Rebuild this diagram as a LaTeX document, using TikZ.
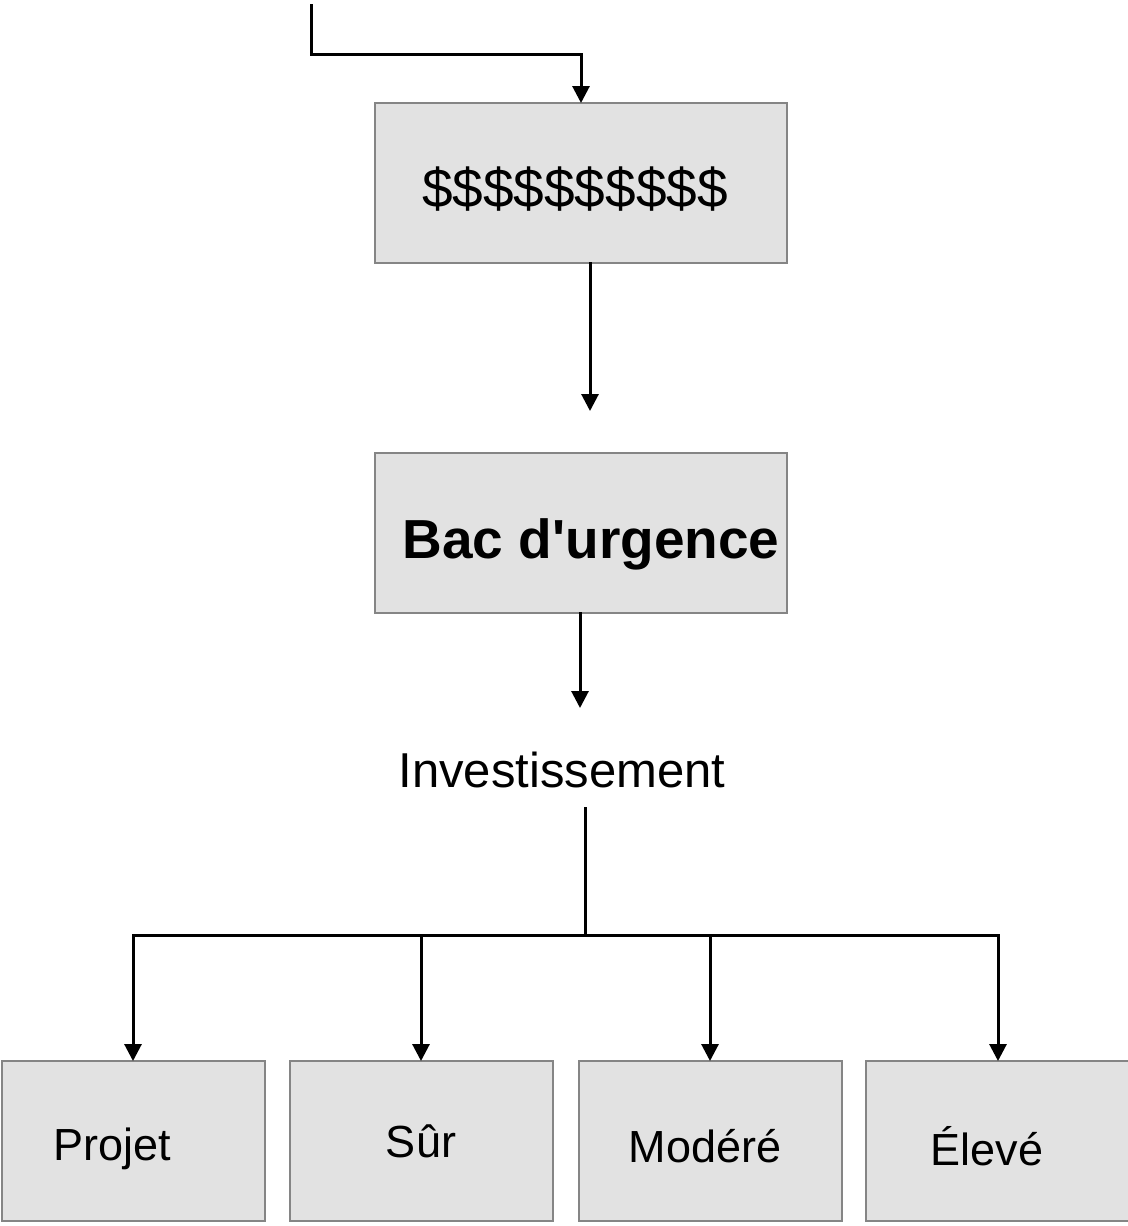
\documentclass[tikz,border=0pt]{standalone}
\usepackage{fontspec}
\setmainfont{Liberation Sans}[Ligatures=TeXOff]
\usetikzlibrary{arrows.meta}

\definecolor{boxfill}{HTML}{E2E2E2}
\definecolor{boxline}{HTML}{858585}

\tikzset{
  panel/.style={draw=boxline, fill=boxfill, line width=1.8pt, rectangle,
    inner sep=0pt, outer sep=0pt, anchor=north west},
  wire/.style={line width=3pt, black, line cap=rect},
  flow/.style={wire, -{Triangle[length=17pt,width=17pt]}},
  txt/.style={anchor=base, inner sep=0pt, text=black},
}

\begin{document}
\begin{tikzpicture}[x=1pt, y=-1pt]
\useasboundingbox (0,0) rectangle (1127,1226);

% boxes
\node[panel, minimum width=412pt, minimum height=160pt] (cash) at (375,103) {};
\node[panel, minimum width=412pt, minimum height=160pt] (bac) at (375,453) {};
\node[panel, minimum width=263pt, minimum height=160pt] (p1) at (2,1061) {};
\node[panel, minimum width=263pt, minimum height=160pt] (p2) at (290,1061) {};
\node[panel, minimum width=263pt, minimum height=160pt] (p3) at (579,1061) {};
\node[panel, minimum width=263pt, minimum height=160pt] (p4) at (866,1061) {};

% labels
\node[txt, font=\fontsize{55}{60}\selectfont] (cashtxt) at (575,207) {\$\$\$\$\$\$\$\$\$\$};
\node[txt, font=\fontsize{55}{60}\selectfont\bfseries] (bactxt) at (591,558) {Bac d'urgence};
\node[txt, font=\fontsize{49}{54}\selectfont] (inv) at (562,787) {Investissement};
\node[txt, font=\fontsize{45}{50}\selectfont] (t1) at (112,1160) {Projet};
\node[txt, font=\fontsize{45}{50}\selectfont] (t2) at (421,1157) {Sûr};
\node[txt, font=\fontsize{45}{50}\selectfont] (t3) at (705,1162) {Modéré};
\node[txt, font=\fontsize{45}{50}\selectfont] (t4) at (987,1165) {Élevé};

% connector points
\coordinate (src) at (311,5);
\coordinate (bend) at (311,54);
\coordinate (in1) at (581,103);
\coordinate (out1) at (590,263);
\coordinate (end2) at (590,411);
\coordinate (out2) at (580,613);
\coordinate (end3) at (580,708);
\coordinate (up4) at (585,808);
\coordinate (hub) at (585,935);
\coordinate (left) at (133,935);
\coordinate (midl) at (421,935);
\coordinate (midr) at (710,935);
\coordinate (right) at (998,935);

% connectors
\draw[flow] (src) -- (bend) -| (in1);
\draw[flow] (out1) -- (end2);
\draw[flow] (out2) -- (end3);
\draw[wire] (up4) -- (hub);
\draw[wire] (left) -- (right);
\draw[flow] (left) -- (left |- p1.north);
\draw[flow] (midl) -- (midl |- p2.north);
\draw[flow] (midr) -- (midr |- p3.north);
\draw[flow] (right) -- (right |- p4.north);
\end{tikzpicture}
\end{document}
